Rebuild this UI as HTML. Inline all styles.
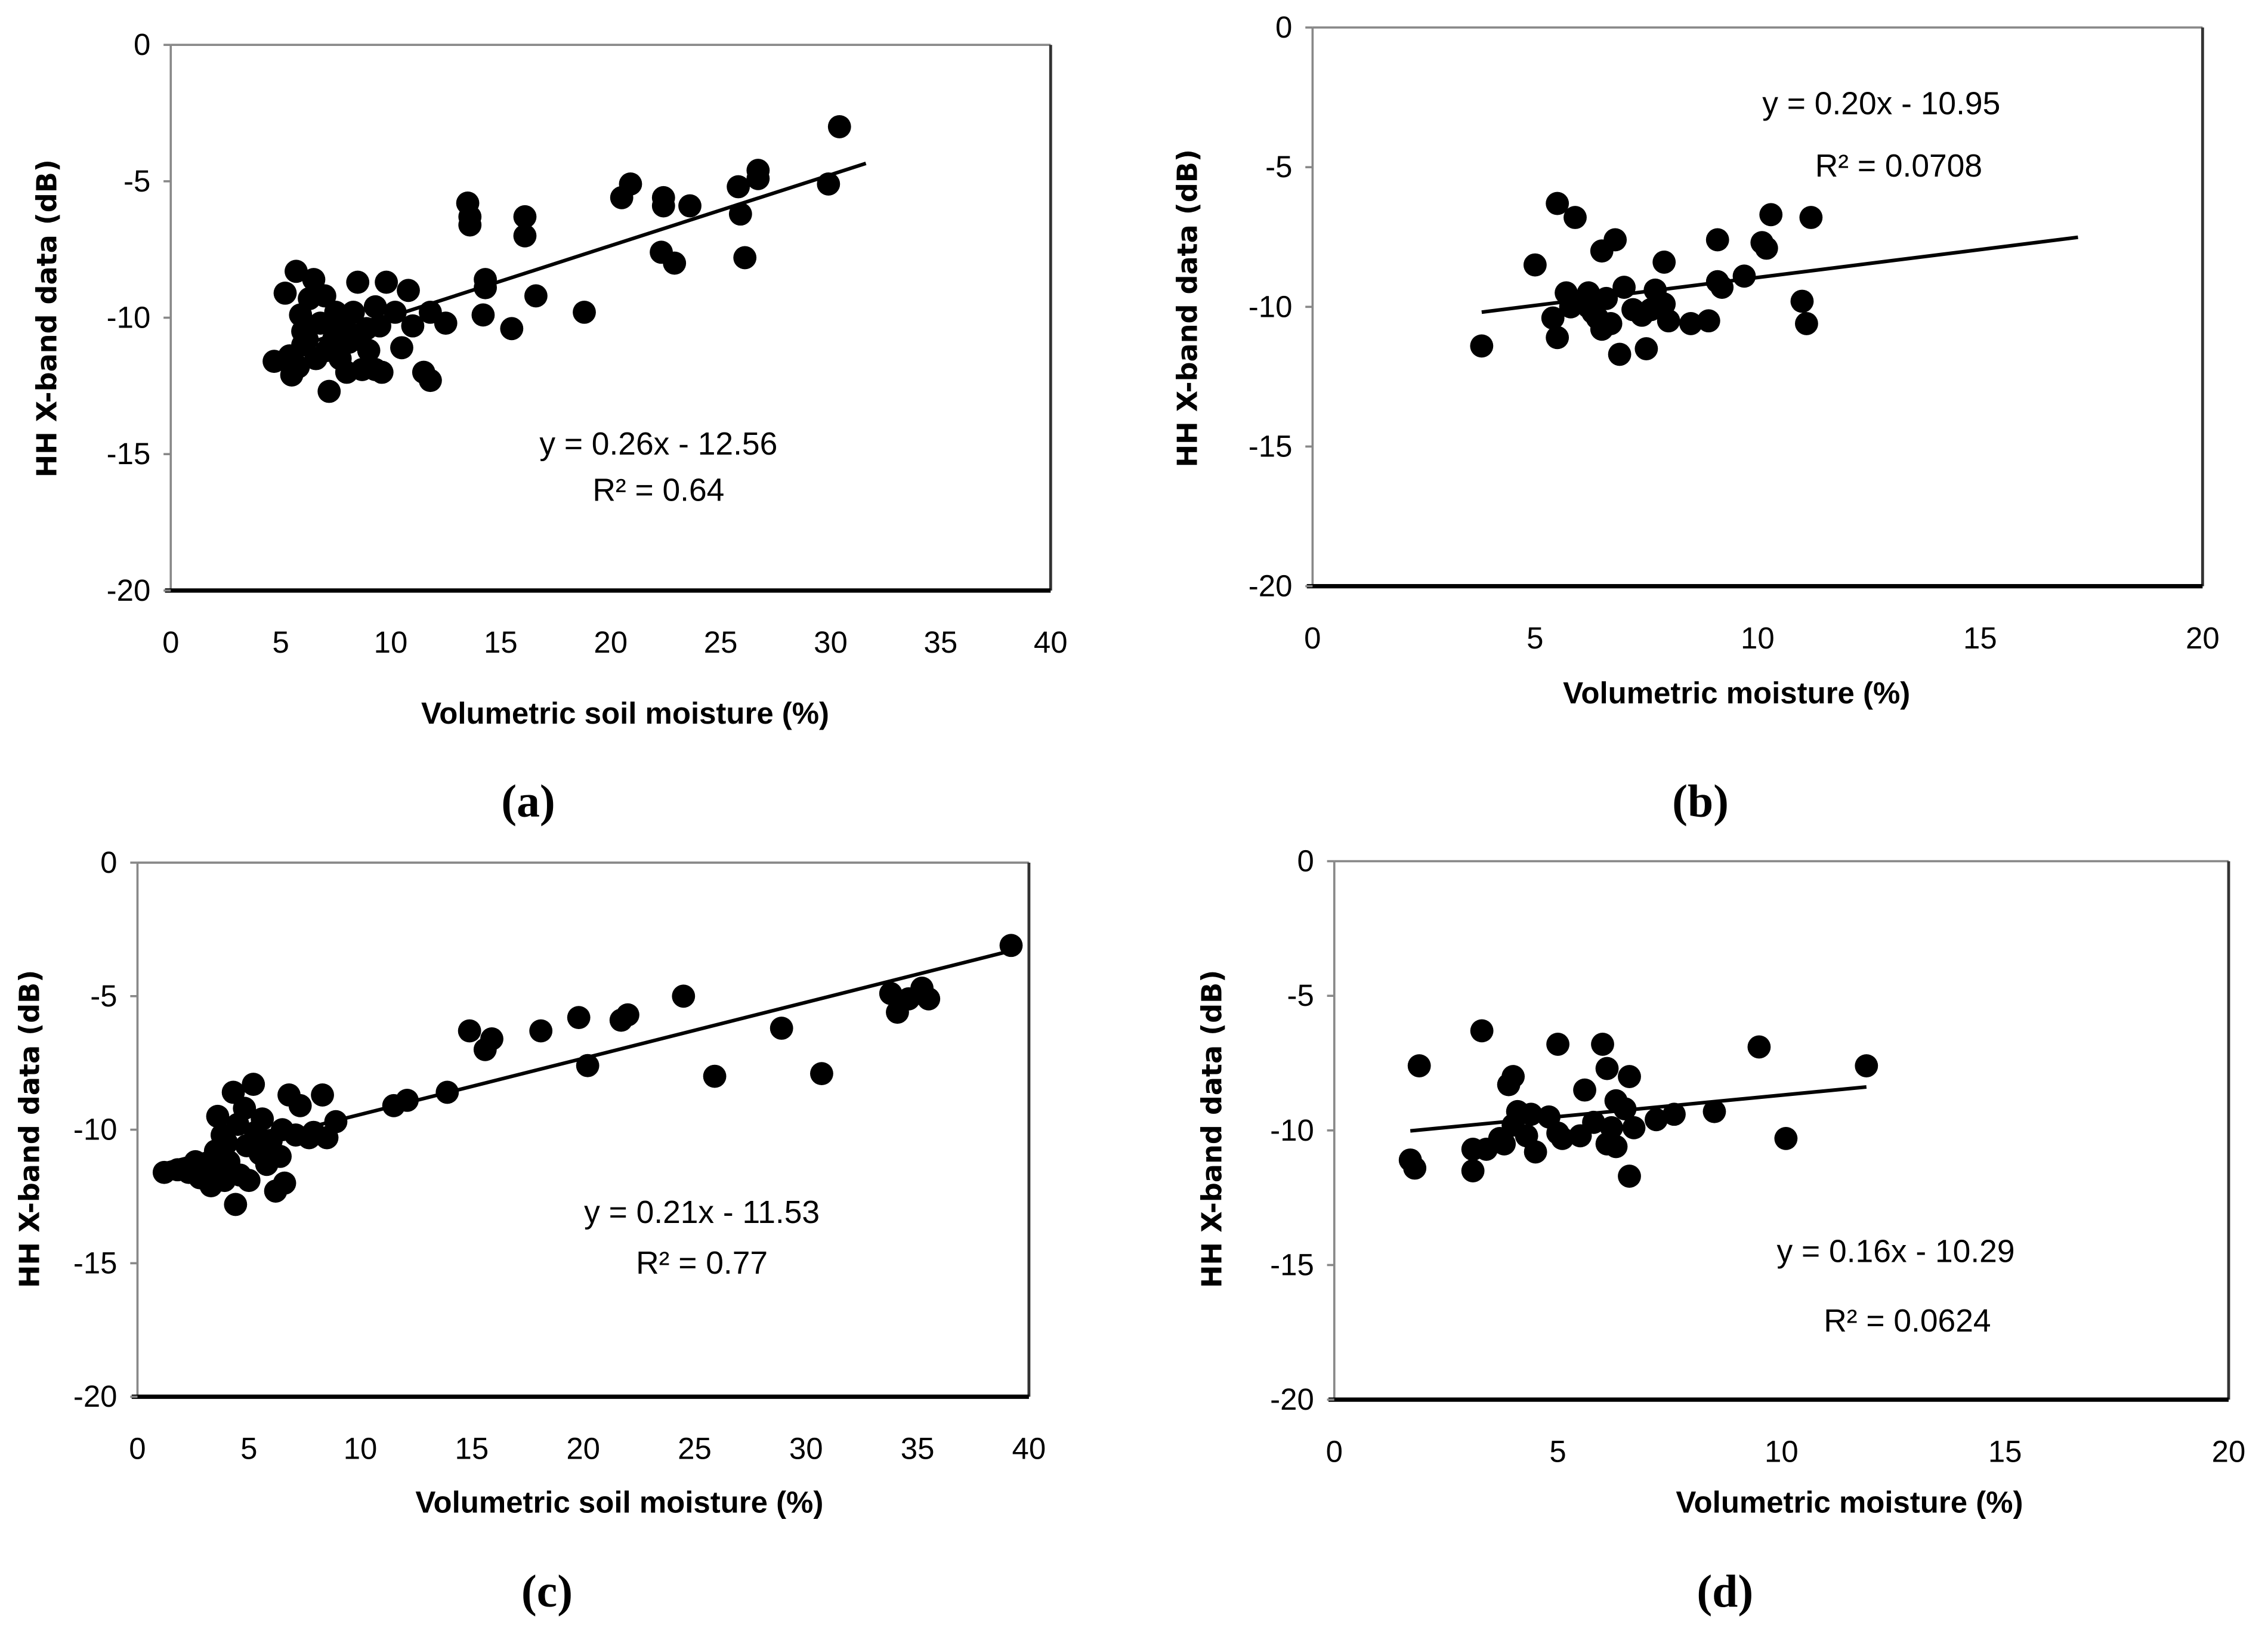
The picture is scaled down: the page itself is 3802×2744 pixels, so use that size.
<!DOCTYPE html>
<html><head><meta charset="utf-8">
<style>
html,body{margin:0;padding:0;background:#fff;}
svg{display:block;}
.tick{font-family:"Liberation Sans Narrow","Liberation Sans",sans-serif;font-size:21px;fill:#000;}
.xt{font-family:"Liberation Sans Narrow","Liberation Sans",sans-serif;font-size:21px;font-weight:bold;fill:#000;}
.yt{font-family:"DejaVu Sans","Liberation Sans",sans-serif;font-size:19px;font-weight:bold;fill:#000;}
.eq{font-family:"Liberation Sans Narrow","Liberation Sans",sans-serif;font-size:22px;fill:#000;}
.pl{font-family:"Liberation Serif",serif;font-size:32px;font-weight:bold;fill:#000;}
</style></head>
<body>
<svg id="fig" width="3802" height="2744" viewBox="0 0 1567.2 1131" preserveAspectRatio="none" xmlns="http://www.w3.org/2000/svg"></svg>
<script>
// Panel (a)
const aX=[4.7,5.2,5.5,5.7,5.8,5.9,6,6,6.2,6.3,6.5,6.6,6.8,7,7.1,7.2,7.4,7.5,7.7,7.9,8,8.1,8.3,8.5,8.7,8.9,9,9.3,9.3,9.5,9.8,10.2,10.5,10.8,11,11.5,11.8,11.8,12.5,13.5,13.6,13.6,14.2,14.3,14.3,15.5,16.1,16.1,16.6,18.8,20.5,20.9,22.3,22.4,22.4,22.9,23.6,25.8,25.9,26.1,26.7,26.7,29.9,30.4,5.4,7.6,9.6,8.6];
const aY=[-11.6,-9.1,-12.1,-8.3,-11.8,-9.9,-10.5,-11,-10.8,-9.3,-8.6,-11.5,-10.2,-9.2,-11.2,-12.7,-10.8,-9.8,-11.5,-10.2,-12,-10.9,-9.8,-8.7,-11.9,-10.4,-11.2,-9.6,-11.9,-10.3,-8.7,-9.8,-11.1,-9,-10.3,-12,-12.3,-9.8,-10.2,-5.8,-6.3,-6.6,-9.9,-8.6,-8.9,-10.4,-6.3,-7,-9.2,-9.8,-5.6,-5.1,-7.6,-5.6,-5.9,-8,-5.9,-5.2,-6.2,-7.8,-4.6,-4.9,-5.1,-3,-11.4,-10.2,-12,-10.8];
const aXTicks=[0,5,10,15,20,25,30,35,40];
const aYTicks=[0,-5,-10,-15,-20];
// Panel (b)
const bX=[3.8,5.0,5.4,5.5,5.5,5.7,5.8,5.9,6.1,6.2,6.3,6.4,6.5,6.5,6.6,6.7,6.8,6.9,7.0,7.2,7.4,7.5,7.6,7.7,7.9,7.9,8.0,8.5,8.9,9.1,9.1,9.2,9.7,10.1,10.2,10.3,11.0,11.1,11.2,6.2,7.8];
const bY=[-11.4,-8.5,-10.4,-6.3,-11.1,-9.5,-10,-6.8,-9.8,-9.5,-10.2,-10.4,-8,-10.8,-9.7,-10.6,-7.6,-11.7,-9.3,-10.1,-10.3,-11.5,-10.1,-9.4,-8.4,-9.9,-10.5,-10.6,-10.5,-7.6,-9.1,-9.3,-8.9,-7.7,-7.9,-6.7,-9.8,-10.6,-6.8,-10.0,-9.9];
const bXTicks=[0,5,10,15,20];
const bYTicks=[0,-5,-10,-15,-20];
// Panel (c)
const cX=[1.2,1.8,2.3,2.6,2.8,3.1,3.3,3.5,3.6,3.7,3.8,3.9,4.0,4.1,4.3,4.4,4.5,4.6,4.8,4.9,5.0,5.2,5.3,5.5,5.6,5.8,6.0,6.2,6.4,6.5,6.6,6.8,7.1,7.3,7.7,7.9,8.3,8.5,8.9,11.5,12.1,13.9,14.9,15.6,15.9,18.1,19.8,20.2,21.7,22.0,24.5,25.9,28.9,30.7,33.8,34.1,34.6,35.2,35.5,39.2];
const cY=[-11.6,-11.5,-11.6,-11.2,-11.8,-11.4,-12.1,-10.8,-9.5,-11.5,-10.2,-11.9,-10.5,-11.2,-8.6,-12.8,-9.8,-11.7,-9.2,-10.6,-11.9,-8.3,-10.1,-10.9,-9.6,-11.3,-10.4,-12.3,-11.0,-10.0,-12.0,-8.7,-10.2,-9.1,-10.3,-10.1,-8.7,-10.3,-9.7,-9.1,-8.9,-8.6,-6.3,-7,-6.6,-6.3,-5.8,-7.6,-5.9,-5.7,-5.0,-8.0,-6.2,-7.9,-4.9,-5.6,-5.1,-4.7,-5.1,-3.1];
const cXTicks=[0,5,10,15,20,25,30,35,40];
const cYTicks=[0,-5,-10,-15,-20];
// Panel (d)
const dX=[1.7,1.8,1.9,3.1,3.1,3.3,3.4,3.7,3.8,3.9,4.0,4.0,4.1,4.3,4.4,4.5,4.8,5.0,5.0,5.1,5.5,5.6,5.8,6.0,6.1,6.1,6.2,6.3,6.3,6.5,6.6,6.6,6.7,7.2,7.6,8.5,9.5,10.1,11.9];
const dY=[-11.1,-11.4,-7.6,-10.7,-11.5,-6.3,-10.7,-10.3,-10.5,-8.3,-8.0,-9.8,-9.3,-10.2,-9.4,-10.8,-9.5,-6.8,-10.1,-10.3,-10.2,-8.5,-9.7,-6.8,-7.7,-10.5,-9.9,-8.9,-10.6,-9.2,-8.0,-11.7,-9.9,-9.6,-9.4,-9.3,-6.9,-10.3,-7.6];
const dXTicks=[0,5,10,15,20];
const dYTicks=[0,-5,-10,-15,-20];

const NS="http://www.w3.org/2000/svg";
const svg=document.getElementById('fig');
function mk(tag,attrs,parent){const e=document.createElementNS(NS,tag);for(const k in attrs)e.setAttribute(k,attrs[k]);(parent||svg).appendChild(e);return e;}

function panel(o){
  const g=mk('g',{});
  
  
  const sx=v=>o.L+(v-o.xmin)/(o.xmax-o.xmin)*(o.R-o.L);
  const sy=v=>o.T+(0-v)/20*(o.B-o.T);
  const f1=mk('line',{x1:o.L,y1:o.T,x2:o.R,y2:o.T,stroke:'#888','stroke-width':1.5},g);
  
  const f2=mk('line',{x1:o.R,y1:o.T,x2:o.R,y2:o.B,stroke:'#333','stroke-width':2},g);
  
  const f3=mk('line',{x1:o.L,y1:o.T,x2:o.L,y2:o.B,stroke:'#888','stroke-width':1.5},g);
  
  const f4=mk('line',{x1:o.L-4,y1:o.B,x2:o.R,y2:o.B,stroke:'#000','stroke-width':3},g);
  
  o.yTicks.forEach(v=>{
    const tl=mk('line',{x1:o.L-5,y1:sy(v),x2:o.L,y2:sy(v),stroke:'#888','stroke-width':1.5},g);
    
    const t=mk('text',{x:o.L-14,y:sy(v)+7,'text-anchor':'end',class:'tick'},g);
    t.textContent=v;
    
  });
  o.xTicks.forEach(v=>{
    const t=mk('text',{x:sx(v),y:o.B+43,'text-anchor':'middle',class:'tick'},g);
    t.textContent=v;
    
  });
  o.xs.forEach((x,i)=>{
    const c=mk('circle',{cx:sx(x),cy:sy(o.ys[i]),r:8,fill:'#000'},g);
    
  });
  const ln=mk('line',{x1:sx(o.t0),y1:sy(o.m*o.t0+o.b),x2:sx(o.t1),y2:sy(o.m*o.t1+o.b),stroke:'#000','stroke-width':2.5},g);
  
  const e1=mk('text',{x:o.eq[0],y:o.eq[1],'text-anchor':'middle',class:'eq'},g);
  e1.textContent=o.eqText;
  
  const e2=mk('text',{x:o.r2[0],y:o.r2[1],'text-anchor':'middle',class:'eq'},g);
  e2.textContent=o.r2Text;
  
  const xt=mk('text',{x:o.xtPos[0],y:o.xtPos[1],'text-anchor':'middle',class:'xt'},g);
  xt.textContent=o.xTitle;
  
  const yt=mk('text',{x:0,y:0,'text-anchor':'middle',class:'yt',transform:'translate('+o.ytPos[0]+','+o.ytPos[1]+') rotate(-90)'},g);
  yt.textContent='HH X-band data (dB)';
  
  const pl=mk('text',{x:o.plPos[0],y:o.plPos[1],'text-anchor':'middle',class:'pl'},g);
  pl.textContent='('+o.id+')';
  
}

panel({id:'a',L:118,R:726,T:31,B:408,xmin:0,xmax:40,xs:aX,ys:aY,xTicks:aXTicks,yTicks:aYTicks,
  m:0.26,b:-12.56,t0:4.7,t1:31.6,eq:[455,314],r2:[455,346],eqText:'y = 0.26x - 12.56',r2Text:'R² = 0.64',
  xTitle:'Volumetric soil moisture (%)',xtPos:[432,500],ytPos:[39,220],plPos:[365,564]});
panel({id:'b',L:907,R:1522,T:19,B:405,xmin:0,xmax:20,xs:bX,ys:bY,xTicks:bXTicks,yTicks:bYTicks,
  m:0.20,b:-10.95,t0:3.8,t1:17.2,eq:[1300,79],r2:[1312,122],eqText:'y = 0.20x - 10.95',r2Text:'R² = 0.0708',
  xTitle:'Volumetric moisture (%)',xtPos:[1200,486],ytPos:[827,213],plPos:[1175,564]});
panel({id:'c',L:95,R:711,T:596,B:965,xmin:0,xmax:40,xs:cX,ys:cY,xTicks:cXTicks,yTicks:cYTicks,
  m:0.21,b:-11.53,t0:1.2,t1:39.2,eq:[485,845],r2:[485,880],eqText:'y = 0.21x - 11.53',r2Text:'R² = 0.77',
  xTitle:'Volumetric soil moisture (%)',xtPos:[428,1045],ytPos:[27,780],plPos:[378,1110]});
panel({id:'d',L:922,R:1540,T:595,B:967,xmin:0,xmax:20,xs:dX,ys:dY,xTicks:dXTicks,yTicks:dYTicks,
  m:0.16,b:-10.29,t0:1.7,t1:11.9,eq:[1310,872],r2:[1318,920],eqText:'y = 0.16x - 10.29',r2Text:'R² = 0.0624',
  xTitle:'Volumetric moisture (%)',xtPos:[1278,1045],ytPos:[844,780],plPos:[1192,1110]});
</script>
</body></html>
